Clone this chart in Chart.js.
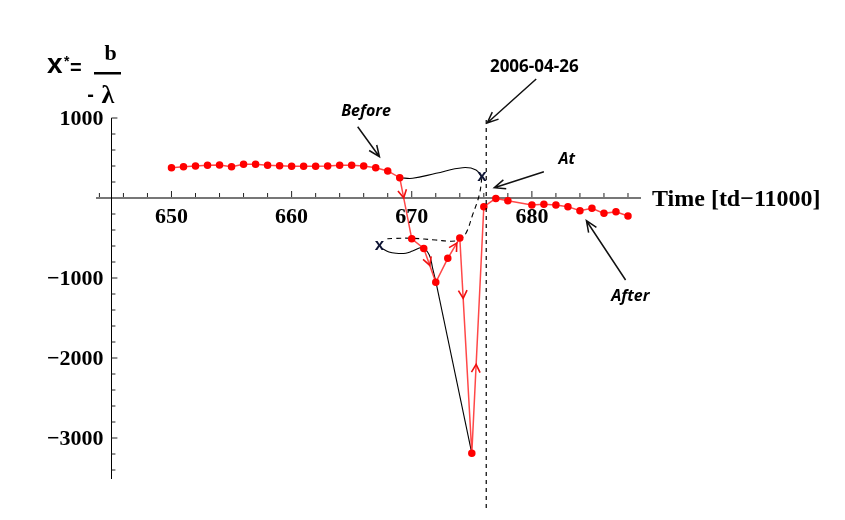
<!DOCTYPE html>
<html>
<head>
<meta charset="utf-8">
<script src="https://cdn.jsdelivr.net/npm/chart.js@4"></script>
<style>
  html, body { margin: 0; padding: 0; background: #fff; }
  canvas { display: block; }
</style>
</head>
<body>
<canvas id="chart" width="845" height="520"></canvas>
<script>
/* ---------------- DATA ---------------- */
// observed x* = b / -lambda, time in td-11000
const days  = [650, 651, 652, 653, 654, 655, 656, 657, 658, 659, 660, 661, 662, 663, 664, 665, 666, 667, 668, 669,
               670, 671, 672, 673, 674, 675, 676, 677, 678, 680, 681, 682, 683, 684, 685, 686, 687, 688];
const xStar = [379, 391, 400, 409, 412, 391, 421, 421, 409, 404, 396, 396, 396, 400, 409, 409, 400, 379, 338, 254,
               -510, -630, -1054, -754, -500, -3190, -108, -5, -35, -87, -79, -87, -108, -158, -129, -192, -171, -225];

// schematic black trajectories
const beforeX = [669.03, 670.07, 672.02, 674.23, 675.35, 675.84];
const beforeY = [254, 246, 309, 379, 350, 254];
const dashX   = [675.84, 675.62, 675.06, 674.51, 674.0, 673.3, 672.0, 670.07, 668.5, 667.72];
const dashY   = [254, 38, -213, -441, -520, -540, -525, -504, -505, -513];
const dropX   = [667.45, 668.1, 668.69, 669.5, 670.07, 670.9, 671.46, 671.74, 672.02];
const dropY   = [-625, -675, -691, -690, -663, -621, -713, -879, -1054];
const fallX   = [672.02, 675];
const fallY   = [-1054, -3191];

// axes
const xTickLabels = [650, 660, 670, 680];
const yTickLabels = [1000, -1000, -2000, -3000];
const yAxisAt = 645;
const eventDay = 676.2;   // 2006-04-26

// red arrowheads: segment start, segment end, position along it
const flowArrows = [[669, 670, 0.33], [671, 672, 0.5], [673, 674, 0.75], [674, 675, 0.28], [675, 676, 0.36]];

// "x" markers and text notes (data coordinates)
const crossMarks = [[675.84, 254], [667.31, -609]];
const notes = [
  { text: "Before", x: 666.2, y: 1087, from: [665.5, 891], to: [667.31, 516], italic: true },
  { text: "At", x: 682.9, y: 487, from: [681.0, 329], to: [676.87, 129], italic: true },
  { text: "After", x: 688.2, y: -1225, from: [687.8, -1025], to: [684.54, -284], italic: true },
  { text: "2006-04-26", x: 680.2, y: 1637, from: [680.36, 1487], to: [676.28, 937], italic: false }
];

const pts = (xs, ys) => xs.map((x, i) => ({ x: x, y: ys[i] }));

/* ---------------- HELPERS ---------------- */
function openArrow(ctx, x1, y1, x2, y2, len, ang, shaft) {
  const a = Math.atan2(y2 - y1, x2 - x1);
  ctx.beginPath();
  if (shaft) { ctx.moveTo(x1, y1); ctx.lineTo(x2, y2); }
  ctx.moveTo(x2 - len * Math.cos(a - ang), y2 - len * Math.sin(a - ang));
  ctx.lineTo(x2, y2);
  ctx.lineTo(x2 - len * Math.cos(a + ang), y2 - len * Math.sin(a + ang));
  ctx.stroke();
}

/* ---------------- OVERLAY ---------------- */
const overlay = {
  id: "overlay",
  afterDraw(chart) {
    const ctx = chart.ctx;
    const X = v => chart.scales.x.getPixelForValue(v);
    const Y = v => chart.scales.y.getPixelForValue(v);
    const ax = X(yAxisAt), ay = Y(0);
    ctx.save();

    // tick marks (inside)
    ctx.strokeStyle = "#222";
    ctx.lineWidth = 1;
    ctx.beginPath();
    for (let v = 644; v <= 688; v += 2) {
      const len = v % 10 === 0 ? 6 : 4;
      ctx.moveTo(X(v), ay - 1); ctx.lineTo(X(v), ay - 1 - len);
    }
    for (let v = -3400; v <= 1000; v += 200) {
      if (v === 0) continue;
      const len = v % 1000 === 0 ? 6 : 4;
      ctx.moveTo(ax, Y(v)); ctx.lineTo(ax + len, Y(v));
    }
    ctx.stroke();

    // tick labels
    ctx.fillStyle = "#000";
    ctx.font = "bold 22px 'Liberation Serif'";
    ctx.textBaseline = "alphabetic";
    ctx.textAlign = "center";
    xTickLabels.forEach(v => ctx.fillText(String(v), X(v), ay + 25));
    ctx.textAlign = "right";
    yTickLabels.forEach(v => ctx.fillText(v < 0 ? "\u2212" + Math.abs(v) : String(v), ax - 8, Y(v) + 7));

    // axis title
    ctx.textAlign = "left";
    ctx.font = "bold 24px 'Liberation Serif'";
    ctx.fillText("Time [td\u221211000]", chart.chartArea.right + 12, ay + 8);

    // y formula  x* = b / -lambda
    ctx.font = "bold 28px 'Liberation Sans'";
    ctx.fillText("x", 47, 73);
    ctx.font = "bold 14px 'Liberation Sans'";
    ctx.fillText("*", 64, 66);
    ctx.font = "bold 20px 'Liberation Sans'";
    ctx.fillText("=", 70, 74);
    ctx.textAlign = "center";
    ctx.font = "bold 22px 'Liberation Serif'";
    ctx.fillText("b", 110.5, 60);
    ctx.fillRect(94, 72, 27, 2.5);
    ctx.font = "bold 20px 'Liberation Sans'";
    ctx.fillText("-", 90.5, 101);
    ctx.font = "bold 26px 'Liberation Serif'";
    ctx.fillText("\u03bb", 108, 103);

    // event line
    ctx.strokeStyle = "#000";
    ctx.lineWidth = 1.2;
    ctx.setLineDash([4, 4]);
    ctx.beginPath();
    ctx.moveTo(X(eventDay), Y(975));
    ctx.lineTo(X(eventDay), Y(-3900));
    ctx.stroke();
    ctx.setLineDash([]);

    // red direction arrows
    ctx.strokeStyle = "#f01010";
    ctx.lineWidth = 1.6;
    flowArrows.forEach(([a, b, t]) => {
      const i = days.indexOf(a), j = days.indexOf(b);
      const x1 = X(a), y1 = Y(xStar[i]), x2 = X(b), y2 = Y(xStar[j]);
      const tx = x1 + (x2 - x1) * t, ty = y1 + (y2 - y1) * t;
      openArrow(ctx, x1, y1, tx, ty, 9, 0.5, false);
    });

    // x markers
    ctx.fillStyle = "#0f1535";
    ctx.font = "bold 17px 'Liberation Sans'";
    ctx.textAlign = "center";
    ctx.textBaseline = "middle";
    crossMarks.forEach(([x, y]) => ctx.fillText("x", X(x), Y(y) - 1));

    // notes with arrows
    ctx.strokeStyle = "#111";
    ctx.lineWidth = 1.5;
    notes.forEach(n => {
      ctx.fillStyle = "#000";
      ctx.font = (n.italic ? "italic bold 16px" : "bold 17px") + " 'Open Sans'";
      ctx.fillText(n.text, X(n.x), Y(n.y));
      openArrow(ctx, X(n.from[0]), Y(n.from[1]), X(n.to[0]), Y(n.to[1]), 12, 0.4, true);
    });

    ctx.restore();
  }
};

/* ---------------- CHART ---------------- */
const axisCommon = {
  type: "linear",
  grid: { display: false, drawTicks: false },
  ticks: { display: false }
};

new Chart(document.getElementById("chart"), {
  type: "scatter",
  data: {
    datasets: [
      {
        data: pts(days, xStar),
        showLine: true,
        borderColor: "rgba(255, 40, 40, 0.85)",
        borderWidth: 1.5,
        pointBackgroundColor: "#f00",
        pointBorderColor: "#f00",
        pointRadius: 3
      },
      { data: pts(beforeX, beforeY), showLine: true, tension: 0.4, borderColor: "#000", borderWidth: 1.1, pointRadius: 0 },
      { data: pts(dashX, dashY), showLine: true, tension: 0.4, borderColor: "#000", borderWidth: 1.1, borderDash: [5, 4], pointRadius: 0 },
      { data: pts(dropX, dropY), showLine: true, tension: 0.4, borderColor: "#000", borderWidth: 1.1, pointRadius: 0 },
      { data: pts(fallX, fallY), showLine: true, borderColor: "#000", borderWidth: 1.1, pointRadius: 0 }
    ]
  },
  options: {
    responsive: false,
    animation: false,
    layout: { padding: { left: 97, right: 205, top: 118, bottom: 42 } },
    plugins: { legend: { display: false }, tooltip: { enabled: false } },
    scales: {
      x: Object.assign({}, axisCommon, {
        position: { y: 0 }, min: 643.8, max: 689,
        border: { display: true, color: "#777", width: 2 }
      }),
      y: Object.assign({}, axisCommon, {
        position: { x: yAxisAt }, min: -3500, max: 1000,
        border: { display: true, color: "#000", width: 1 }
      })
    }
  },
  plugins: [overlay]
});
</script>
</body>
</html>
